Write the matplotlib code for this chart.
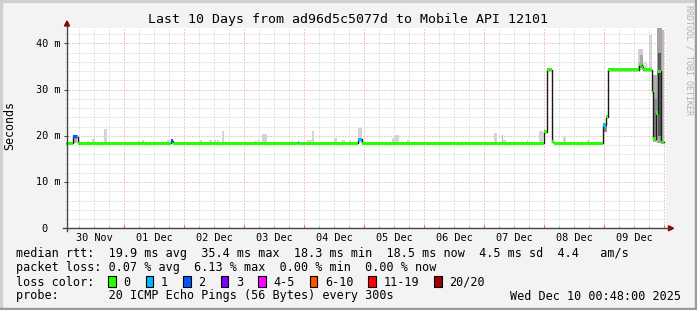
import matplotlib
matplotlib.use("Agg")
import matplotlib.pyplot as plt
import matplotlib.transforms as mtransforms
from matplotlib.patches import Rectangle, Polygon
from matplotlib.lines import Line2D

# ---------------- data ----------------
title = "Last 10 Days from ad96d5c5077d to Mobile API 12101"
ylabel = "Seconds"
watermark = "RRDTOOL / TOBI OETIKER"

# time axis: hours since 30 Nov 00:00
x_start, x_end = 0.8, 240.8
day_labels = ["30 Nov", "01 Dec", "02 Dec", "03 Dec", "04 Dec",
              "05 Dec", "06 Dec", "07 Dec", "08 Dec", "09 Dec"]
y_ticks = [0, 10, 20, 30, 40]
y_tick_labels = ["0", "10 m", "20 m", "30 m", "40 m"]
y_max = 43.3

# median rtt (ms) as steps: start hour, value, loss bin index
med_start = [0.8, 3.6, 4.96, 5.6, 42.68, 43.6, 93.36, 94.0, 117.6, 118.96,
             191.88, 192.96, 195.08, 195.88, 215.6, 216.8, 217.6, 229.76,
             230.96, 231.6, 234.96, 235.6, 236.8, 237.6, 238.68]
med_value = [18.4, 19.8, 19.8, 18.4, 18.9, 18.4, 18.5, 18.4, 19.2, 18.4,
             20.9, 34.3, 18.7, 18.4, 22.3, 24.1, 34.3, 35.4,
             34.8, 34.3, 29.4, 19.4, 24.9, 33.9, 18.6]
med_loss = [0, 2, 1, 0, 2, 0, 1, 0, 1, 0,
            0, 0, 0, 0, 1, 0, 0, 0,
            0, 0, 0, 0, 0, 0, 0]
med_end = 239.88

# smoke (ping spread): start hour, end hour, low ms, high ms, grey shade
smoke_start = [9.08, 11.08, 15.88, 28.96, 30.96, 40.96, 53.88, 57.88, 59.88, 61.08,
               62.96, 75.88, 77.36, 78.96, 90.96, 96.96, 98.96, 107.88, 111.08, 113.88,
               117.48, 130.96, 132.28, 136.96, 171.88, 174.96, 175.48, 184.96, 189.88,
               199.48, 208.96, 3.68, 215.48, 229.6, 230.28, 231.6, 233.92, 235.6,
               235.6, 236.96, 237.36, 238.96]
smoke_end = [9.88, 12.28, 17.08, 29.68, 31.88, 42.28, 55.08, 59.08, 60.68, 61.68,
             63.68, 77.08, 77.88, 81.08, 91.48, 98.96, 99.68, 109.08, 112.28, 114.68,
             119.08, 132.28, 133.88, 137.88, 173.08, 175.48, 176.68, 185.48, 191.48,
             200.68, 210.28, 5.08, 217.08, 231.6, 231.36, 233.2, 234.96, 236.96,
             236.96, 238.96, 238.72, 239.88]
smoke_lo = [18.4] * 31 + [18.4, 20.9, 34.3, 34.7, 34.3, 34.3, 18.6, 19.0, 18.4, 20.0, 18.6]
smoke_hi = [18.9, 19.2, 21.5, 18.9, 19.1, 19.1, 19.0, 19.1, 19.0, 19.1,
            21.1, 18.9, 19.3, 20.4, 19.0, 19.0, 21.0, 19.5, 19.0, 19.0,
            21.6, 19.5, 20.2, 19.1, 20.7, 20.2, 19.0, 19.0, 21.1,
            19.8, 19.1, 19.6, 22.4, 38.7, 37.5, 36.0, 41.8, 33.2, 28.0, 43.3, 38.0, 42.8]
smoke_color = (["#d4d4d4"] * 25 + ["#b8b8b8"] + ["#d4d4d4"] * 5 +
               ["#b4b4b4", "#8c8c8c", "#d0d0d0", "#a8a8a8", "#dcdcdc", "#d4d4d4",
                "#b0b0b0", "#8a8a8a", "#a4a4a4", "#5a5a5a", "#bcbcbc"])

loss_labels = ["0", "1", "2", "3", "4-5", "6-10", "11-19", "20/20"]
loss_colors = ["#26ff00", "#00b8ff", "#0059ff", "#7e00ff",
               "#ff00ff", "#ff5500", "#ff0000", "#a10000"]

line_rtt = "median rtt:  19.9 ms avg  35.4 ms max  18.3 ms min  18.5 ms now  4.5 ms sd  4.4   am/s"
line_loss = "packet loss: 0.07 % avg  6.13 % max  0.00 % min  0.00 % now"
line_color = "loss color:"
line_probe = "probe:       20 ICMP Echo Pings (56 Bytes) every 300s"
stamp = "Wed Dec 10 00:48:00 2025"

# ---------------- layout ----------------
W, H, DPI = 697, 310, 100
MONO = "DejaVu Sans Mono"
BG = "#f3f3f3"


def fx(x):
    return x / W


def fy(y):
    return 1 - y / H


fig = plt.figure(figsize=(W / DPI, H / DPI), dpi=DPI, facecolor=BG)
ax = fig.add_axes([fx(66.3), fy(228.3), 600 / W, 200.3 / H])
ax.set_facecolor("white")
ax.set_xlim(x_start, x_end)
ax.set_ylim(0, y_max)
for s in ax.spines.values():
    s.set_visible(False)

# grid
ax.set_xticks([24 * k for k in range(1, 11)])
ax.set_xticks([6 * k for k in range(1, 41) if k % 4], minor=True)
ax.set_yticks(y_ticks[1:])
ax.set_yticks([v for v in range(2, 44, 2) if v % 10], minor=True)
ax.grid(which="minor", color="#c8c8c8", linestyle=(0, (1, 2)), linewidth=0.72)
ax.grid(which="major", color="#f29090", linestyle=(0, (1, 2)), linewidth=0.72)
ax.set_axisbelow(True)
ax.tick_params(axis="x", which="major", direction="in", length=2.5, color="#ff6060",
               labelbottom=False)
ax.tick_params(axis="x", which="minor", direction="in", length=1.5, color="#999999")
ax.tick_params(axis="y", which="major", direction="inout", length=3, color="#444444",
               labelleft=False)
ax.tick_params(axis="y", which="minor", length=0)

# smoke
ax.bar(smoke_start, [h - l for l, h in zip(smoke_lo, smoke_hi)],
       width=[e - s for s, e in zip(smoke_start, smoke_end)],
       bottom=smoke_lo, align="edge", color=smoke_color, linewidth=0, zorder=2)

# median black line
ax.step(med_start + [med_end], med_value + [med_value[-1]], where="post",
        color="#1a1a1a", linewidth=1.0, zorder=3)

# loss-coloured median bars
sw = 0.36
ends = med_start[1:] + [med_end]
ax.bar(med_start, 2 * sw, width=[e - s for s, e in zip(med_start, ends)],
       bottom=[v - sw for v in med_value], align="edge",
       color=[loss_colors[i] for i in med_loss], linewidth=0, zorder=4)

# axis lines with arrows
axc = "#444444"
arr = "#8b0000"
fig.add_artist(Line2D([fx(67), fx(67)], [fy(231), fy(25)], color=axc, lw=1,
                      transform=fig.transFigure))
fig.add_artist(Line2D([fx(63), fx(669)], [fy(228.3), fy(228.3)], color=axc, lw=1,
                      transform=fig.transFigure))
fig.add_artist(Polygon([[fx(67), fy(21)], [fx(64.5), fy(26)], [fx(69.5), fy(26)]],
                       closed=True, color=arr, transform=fig.transFigure))
fig.add_artist(Polygon([[fx(673.5), fy(228.3)], [fx(668.5), fy(225.8)], [fx(668.5), fy(230.8)]],
                       closed=True, color=arr, transform=fig.transFigure))

# tick labels
tx = mtransforms.blended_transform_factory(ax.transData, fig.transFigure)
for i, lab in enumerate(day_labels):
    ax.text(12 + 24 * i, fy(241), lab, transform=tx, ha="center", va="baseline",
            family=MONO, fontsize=7.4, color="#000000")
ty = mtransforms.blended_transform_factory(fig.transFigure, ax.transData) + \
    mtransforms.ScaledTranslation(0, -3.4 / DPI, fig.dpi_scale_trans)
cw_tick = 7.4 / 72 * DPI * 0.602
for v, lab in zip(y_ticks, y_tick_labels):
    right = 60 - (4 - len(lab)) * cw_tick * (2 / 3 if len(lab) == 1 else 1)
    ax.text(fx(right), v, lab, transform=ty, ha="right", va="baseline",
            family=MONO, fontsize=7.4, color="#000000")

# title & labels
fig.text(fx(347.5), fy(23.5), title, ha="center", va="baseline", family=MONO,
         fontsize=9.5, color="#000000")
fig.text(fx(10), fy(125), ylabel, rotation=90, ha="center", va="center",
         family=MONO, fontsize=8.4, color="#000000")
fig.text(fx(688.5), fy(5), watermark, rotation=270, ha="center", va="top",
         family=MONO, fontsize=6, color="#b0b0b0")

# legend
LFS = 8.45
cw = LFS / 72 * DPI * 0.602
for txt, yb in [(line_rtt, 257.5), (line_loss, 271.5), (line_color, 285.5),
                (line_probe, 299.5)]:
    fig.text(fx(16), fy(yb), txt, ha="left", va="baseline", family=MONO,
             fontsize=LFS, color="#000000")
bx = 108.3
for lab, col in zip(loss_labels, loss_colors):
    fig.add_artist(Rectangle((fx(bx), fy(286.5)), 7.5 / W, 11 / H, facecolor=col,
                             edgecolor="#000000", linewidth=0.8,
                             transform=fig.transFigure))
    fig.text(fx(bx + 15), fy(285.5), lab, ha="left", va="baseline", family=MONO,
             fontsize=LFS, color="#000000")
    bx = bx + 15 + len(lab) * cw + 15.4
fig.text(fx(680.5), fy(299.5), stamp, ha="right", va="baseline", family=MONO,
         fontsize=LFS, color="#000000")

# frame
fig.add_artist(Rectangle((0, fy(2)), 1, 2 / H, color="#d0d0d0", transform=fig.transFigure))
fig.add_artist(Rectangle((0, 0), 2 / W, 1, color="#d0d0d0", transform=fig.transFigure))
fig.add_artist(Rectangle((fx(695), 0), 2 / W, 1, color="#9a9a9a", transform=fig.transFigure))
fig.add_artist(Rectangle((0, 0), 1, 2.5 / H, color="#9a9a9a", transform=fig.transFigure))

fig.savefig("out.png", dpi=DPI, facecolor=BG)
